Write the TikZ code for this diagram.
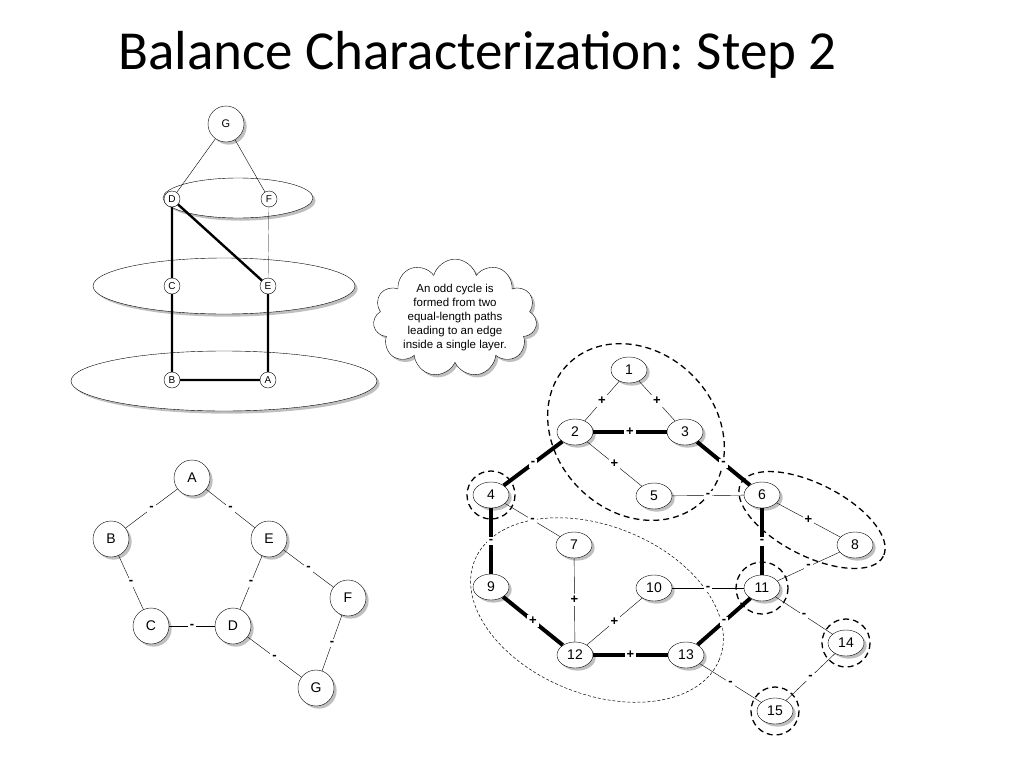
\documentclass[tikz,border=0pt]{standalone}
\usepackage{fontspec}
\setmainfont{Liberation Sans}
\newfontfamily\titlefont{Carlito}
\usetikzlibrary{shapes.geometric,shapes.symbols,shadows}
\frenchspacing

\begin{document}
\begin{tikzpicture}[x=1pt,y=-1pt,
  every node/.style={font=\fontsize{14}{16}\selectfont},
  vx/.style={ellipse,draw,fill=white,drop shadow,minimum width=36pt,minimum height=26pt,inner sep=0pt},
  pv/.style={circle,draw,fill=white,drop shadow,minimum size=36pt,inner sep=0pt,font=\fontsize{14}{16}\selectfont},
  lv/.style={circle,draw,fill=white,minimum size=16pt,inner sep=0pt,font=\fontsize{10}{11}\selectfont},
  layer/.style={ellipse,draw,fill=white,drop shadow},
  sgn/.style={fill=white,inner sep=2pt,font=\bfseries\fontsize{13}{13}\selectfont},
  heavy/.style={line width=4pt},
  ring/.style={draw,dashed,line width=1.3pt,dash pattern=on 6pt off 4pt},
  fine/.style={draw,dashed,line width=0.5pt,dash pattern=on 3pt off 2pt}]
  \useasboundingbox (0,0) rectangle (1024,768);

  % title
  \node[anchor=base west,inner sep=0pt,font=\titlefont\fontsize{55}{60}\selectfont] (title) at (118,70) {Balance Characterization: Step 2};

  % layered graph
  \node[layer,minimum width=306pt,minimum height=60pt] (L3) at (224,381) {};
  \node[layer,minimum width=262pt,minimum height=56pt] (L2) at (224,286) {};
  \node[layer,minimum width=150pt,minimum height=40pt] (L1) at (238,198) {};
  \node[circle,draw,fill=white,drop shadow,minimum size=36pt,inner sep=0pt,font=\fontsize{11}{12}\selectfont] (lG) at (226,124) {G};
  \node[lv] (lD) at (172,199) {D};
  \node[lv] (lF) at (269,199) {F};
  \node[lv] (lC) at (172,286) {C};
  \node[lv] (lE) at (268,286) {E};
  \node[lv] (lB) at (172,380) {B};
  \node[lv] (lA) at (268,380) {A};
  \draw (lG) -- (lD);
  \draw (lG) -- (lF);
  \draw[very thin] (lF) -- (lE);
  \draw[line width=2.4pt] (lD) -- (lC) (lD) -- (lE) (lC) -- (lB) (lB) -- (lA) (lA) -- (lE);

  % cloud
  \node[cloud,draw,fill=white,drop shadow,cloud puffs=11,aspect=1.7,inner sep=-2pt,
        align=center,font=\fontsize{11.5}{14}\selectfont] (note) at (455,318)
    {An odd cycle is\\formed from two\\equal-length paths\\leading to an edge\\inside a single layer.};

  % odd cycle
  \node[pv] (A) at (192,478) {A};
  \node[pv] (B) at (111,539) {B};
  \node[pv] (E) at (269,539) {E};
  \node[pv] (C) at (151,626) {C};
  \node[pv] (D) at (233,626) {D};
  \node[pv] (F) at (348,598) {F};
  \node[pv] (G) at (316,688) {G};
  \foreach \a/\b in {A/B,A/E,B/C,C/D,E/D,E/F,D/G,F/G}
    \draw (\a) -- node[sgn]{-} (\b);

  % signed graph: rings
  \draw[ring,rotate around={-45:(636,432)}] (636,432) ellipse (96 and 80);
  \draw[ring,rotate around={-27:(812,520)}] (812,520) ellipse (80 and 36);
  \draw[fine,rotate around={-22:(597,610)}] (597,610) ellipse (132 and 84);
  \draw[ring] (491,495) circle (24);
  \draw[ring] (762,588) circle (26);
  \draw[ring] (846,643) circle (24);
  \draw[ring] (775,711) circle (24);

  % signed graph: vertices
  \node[vx] (n1) at (629,370) {1};
  \node[vx] (n2) at (575,432) {2};
  \node[vx] (n3) at (685,432) {3};
  \node[vx] (n4) at (491,495) {4};
  \node[vx] (n5) at (654,496) {5};
  \node[vx] (n6) at (762,495) {6};
  \node[vx] (n7) at (574,545) {7};
  \node[vx] (n8) at (855,545) {8};
  \node[vx] (n9) at (491,587) {9};
  \node[vx] (n10) at (654,588) {10};
  \node[vx] (n11) at (762,588) {11};
  \node[vx] (n12) at (575,655) {12};
  \node[vx] (n13) at (686,655) {13};
  \node[vx] (n14) at (846,643) {14};
  \node[vx] (n15) at (775,711) {15};

  % signed graph: edges
  \foreach \a/\b/\s in {1/2/+,1/3/+,2/5/+,5/6/-,4/7/-,6/8/+,8/11/-,10/11/-,11/14/-,7/12/+,10/12/+,13/15/-,14/15/-}
    \draw (n\a) -- node[sgn]{\s} (n\b);
  \foreach \a/\b/\s in {2/3/+,2/4/-,3/6/-,4/9/-,6/11/-,9/12/+,12/13/+,13/11/-}
    \draw[heavy] (n\a) -- node[sgn]{\s} (n\b);
\end{tikzpicture}
\end{document}
